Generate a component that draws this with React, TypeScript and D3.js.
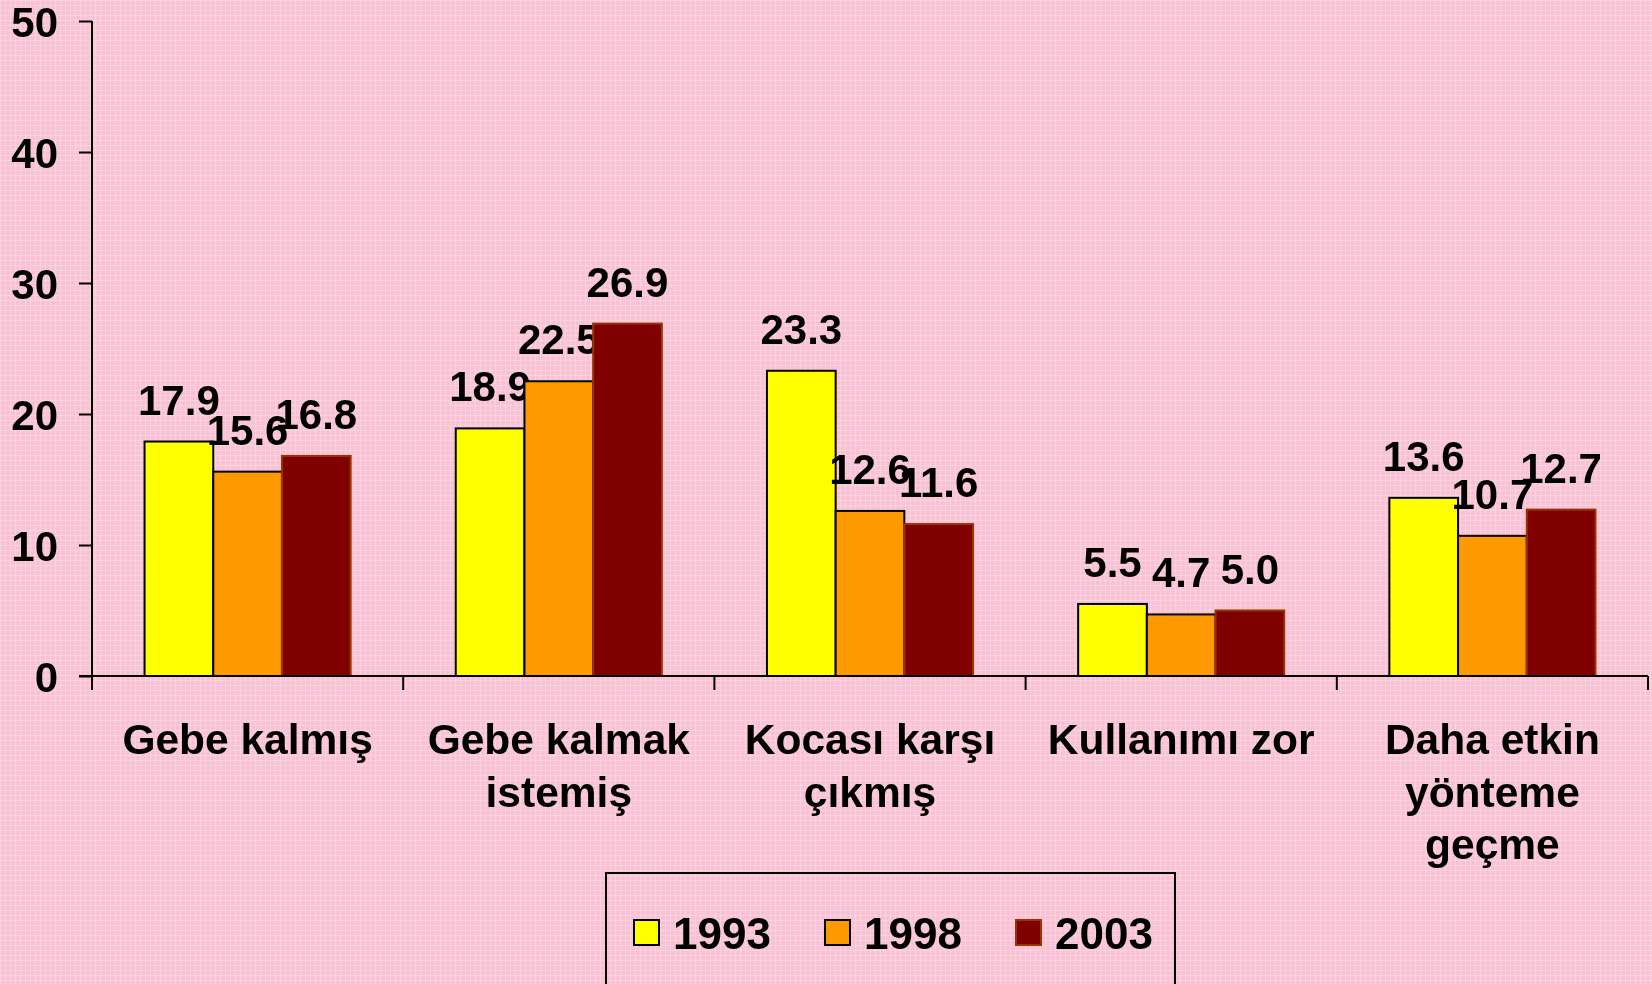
import React, { useEffect, useRef } from "react";
import * as d3 from "d3";

// data
const categories = [
  ["Gebe kalmış"],
  ["Gebe kalmak", "istemiş"],
  ["Kocası karşı", "çıkmış"],
  ["Kullanımı zor"],
  ["Daha etkin", "yönteme", "geçme"],
];
const years = ["1993", "1998", "2003"];
const values1993 = [17.9, 18.9, 23.3, 5.5, 13.6];
const values1998 = [15.6, 22.5, 12.6, 4.7, 10.7];
const values2003 = [16.8, 26.9, 11.6, 5.0, 12.7];
const yTicks = [0, 10, 20, 30, 40, 50];

const fills = ["#FFFF00", "#FF9900", "#800000"];
const strokes = ["#000000", "#000000", "#993300"];

const W = 1652, H = 984;
const margin = { top: 21, right: 4, bottom: 308, left: 92 };
const FONT = "'Liberation Sans', Arial, Helvetica, sans-serif";

const App = () => {
  const ref = useRef<SVGSVGElement>(null);

  useEffect(() => {
    const svg = d3.select(ref.current);
    svg.selectAll("*").remove();

    const series = [values1993, values1998, values2003];
    const catKeys = categories.map((c) => c.join(" "));

    // background
    const defs = svg.append("defs");
    const pat = defs.append("pattern")
      .attr("id", "weave")
      .attr("width", 5).attr("height", 5)
      .attr("patternUnits", "userSpaceOnUse");
    pat.append("rect").attr("width", 5).attr("height", 5).attr("fill", "#f8c1d4");
    pat.append("path").attr("d", "M0,0.5H5M0.5,0V5")
      .attr("stroke", "#fbd2e0").attr("stroke-width", 1);
    svg.append("rect").attr("width", W).attr("height", H).attr("fill", "url(#weave)");

    const x0 = d3.scaleBand()
      .domain(catKeys)
      .range([margin.left, W - margin.right])
      .paddingInner(0).paddingOuter(0);
    const x1 = d3.scaleBand()
      .domain(years)
      .range([0, x0.bandwidth()])
      .paddingInner(0).paddingOuter(0.765);
    const y = d3.scaleLinear().domain([0, 50]).range([H - margin.bottom, margin.top]);

    // bars
    const g = svg.append("g");
    catKeys.forEach((c, ci) => {
      years.forEach((yr, si) => {
        const v = series[si][ci];
        g.append("rect")
          .attr("x", x0(c)! + x1(yr)!)
          .attr("y", y(v))
          .attr("width", x1.bandwidth())
          .attr("height", y(0) - y(v))
          .attr("fill", fills[si])
          .attr("stroke", strokes[si])
          .attr("stroke-width", 2);
        g.append("text")
          .attr("x", x0(c)! + x1(yr)! + x1.bandwidth() / 2)
          .attr("y", y(v) - 27)
          .attr("text-anchor", "middle")
          .attr("font-family", FONT)
          .attr("font-weight", "bold")
          .attr("font-size", 42)
          .attr("fill", "#000")
          .text(v.toFixed(1));
      });
    });

    // y axis
    const yAxis = svg.append("g")
      .attr("transform", `translate(${margin.left},0)`)
      .call(d3.axisLeft(y).tickValues(yTicks).tickSize(13).tickPadding(21).tickFormat(d3.format("d")));
    yAxis.select(".domain").remove();
    yAxis.selectAll(".tick line").attr("stroke", "#000").attr("stroke-width", 2);
    yAxis.selectAll(".tick text")
      .attr("font-family", FONT).attr("font-weight", "bold").attr("font-size", 42)
      .attr("fill", "#000").attr("dy", "0.36em");
    svg.append("line")
      .attr("x1", margin.left).attr("x2", margin.left)
      .attr("y1", y(50)).attr("y2", y(0) + 14)
      .attr("stroke", "#000").attr("stroke-width", 2);

    // x axis
    svg.append("line")
      .attr("x1", margin.left - 13).attr("x2", W - margin.right)
      .attr("y1", y(0)).attr("y2", y(0))
      .attr("stroke", "#000").attr("stroke-width", 2);
    const bounds = catKeys.map((c) => x0(c)!).concat([x0(catKeys[catKeys.length - 1])! + x0.bandwidth()]);
    svg.append("g").selectAll("line").data(bounds).join("line")
      .attr("x1", (d) => d).attr("x2", (d) => d)
      .attr("y1", y(0)).attr("y2", y(0) + 14)
      .attr("stroke", "#000").attr("stroke-width", 2);

    const labels = svg.append("g");
    categories.forEach((lines, ci) => {
      const cx = x0(catKeys[ci])! + x0.bandwidth() / 2;
      const t = labels.append("text")
        .attr("x", cx)
        .attr("y", 754)
        .attr("text-anchor", "middle")
        .attr("font-family", FONT)
        .attr("font-weight", "bold")
        .attr("font-size", 42.5)
        .attr("fill", "#000");
      lines.forEach((ln, li) => {
        t.append("tspan")
          .attr("x", cx)
          .attr("dy", li === 0 ? 0 : 52.5)
          .text(ln);
      });
    });

    // legend
    const lg = svg.append("g");
    lg.append("rect")
      .attr("x", 606).attr("y", 873)
      .attr("width", 569).attr("height", 130)
      .attr("fill", "none").attr("stroke", "#000").attr("stroke-width", 2);
    years.forEach((yr, i) => {
      const lx = 634 + i * 191;
      lg.append("rect")
        .attr("x", lx).attr("y", 920)
        .attr("width", 25).attr("height", 25)
        .attr("fill", fills[i]).attr("stroke", strokes[i]).attr("stroke-width", 2);
      lg.append("text")
        .attr("x", lx + 39).attr("y", 949)
        .attr("font-family", FONT).attr("font-weight", "bold").attr("font-size", 44)
        .attr("fill", "#000")
        .text(yr);
    });
  }, []);

  return (
    <div style={{ position: "fixed", left: 0, top: 0, width: W, height: H, overflow: "hidden" }}>
      <svg ref={ref} width={W} height={H} style={{ display: "block" }}></svg>
    </div>
  );
};

export default App;
